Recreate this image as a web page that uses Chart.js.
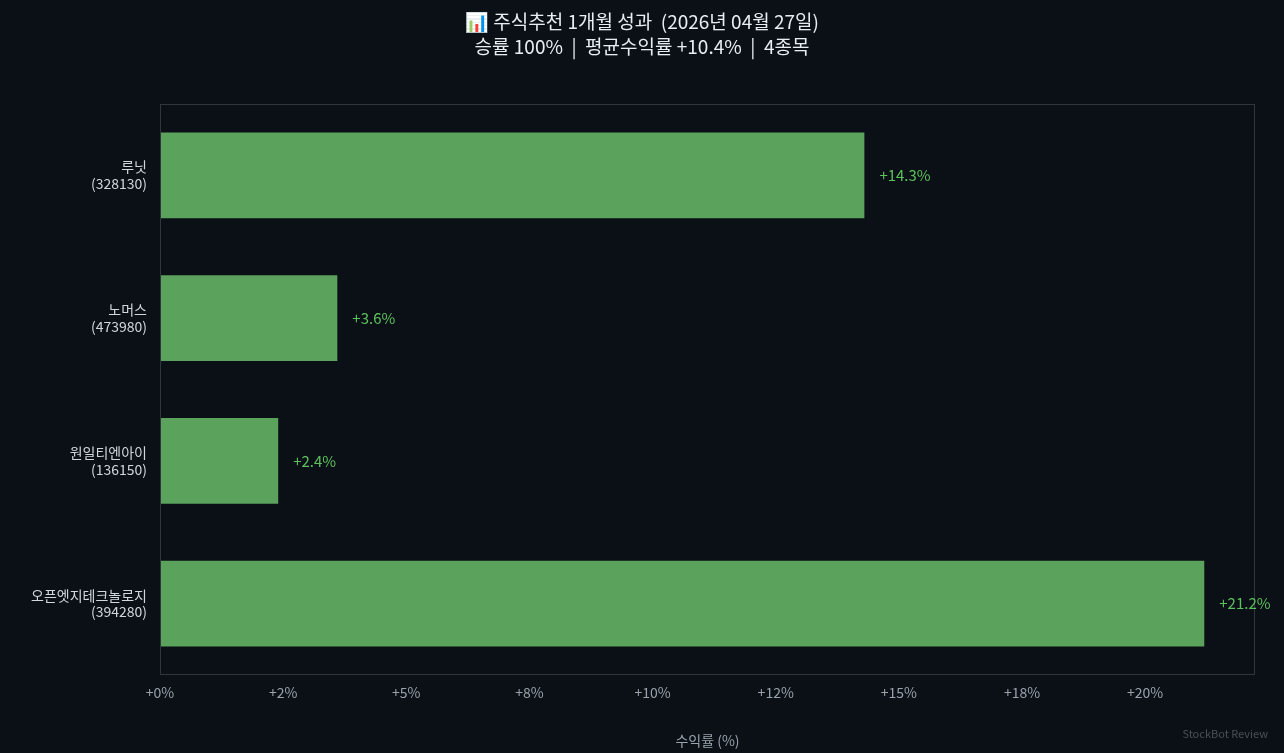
<!DOCTYPE html>
<html><head><meta charset="utf-8">
<script src="https://cdn.jsdelivr.net/npm/chart.js@4"></script>
<style>html,body{margin:0;background:#0b0f16;}#w{width:1284px;height:753px;}</style>
</head><body><div id="w"><canvas id="c"></canvas></div>
<script>
const categories = [['루닛','(328130)'],['노머스','(473980)'],['원일티엔아이','(136150)'],['오픈엣지테크놀로지','(394280)']];
const returns = [14.3, 3.6, 2.4, 21.2];
const tickLabels = ['+0%','+2%','+5%','+8%','+10%','+12%','+15%','+18%','+20%'];
const titleLines = ['📊 주식추천 1개월 성과  (2026년 04월 27일)','승률 100%  |  평균수익률 +10.4%  |  4종목'];
const F = '"Noto Sans CJK KR","Noto Sans",sans-serif';
const deco = {
  id:'deco',
  beforeDraw(ch){const c=ch.ctx;c.save();c.fillStyle='#0b0f16';c.fillRect(0,0,ch.width,ch.height);c.restore();},
  afterDraw(ch){
    const c=ch.ctx,a=ch.chartArea;c.save();
    c.strokeStyle='#30363d';c.lineWidth=1;c.strokeRect(a.left+0.5,a.top+0.5,a.right-a.left-1,a.bottom-a.top-1);
    c.fillStyle='#e6edf3';c.textAlign='center';c.textBaseline='middle';c.font='19px '+F;
    c.fillText(titleLines[0],642,22);c.fillText(titleLines[1],642,47);
    const m=ch.getDatasetMeta(0);
    c.fillStyle='#5cc25c';c.font='15px '+F;c.textAlign='left';
    m.data.forEach((b,i)=>c.fillText('+'+returns[i].toFixed(1)+'%',b.x+15,b.y));
    c.fillStyle='#4a5058';c.font='11px '+F;c.textAlign='right';
    c.fillText('StockBot Review',1268,734);
    c.restore();
  }
};
new Chart(document.getElementById('c'),{
  type:'bar',
  data:{labels:categories,datasets:[{data:returns,backgroundColor:'#5ba25c',barPercentage:0.6,categoryPercentage:1}]},
  options:{
    indexAxis:'y',responsive:true,maintainAspectRatio:false,animation:false,
    layout:{padding:{top:104,right:29,left:0,bottom:0}},
    plugins:{legend:{display:false},tooltip:{enabled:false}},
    scales:{
      x:{min:0,max:22.23,grid:{display:false,drawTicks:true,tickLength:5,color:'#8b949e'},border:{display:false},
        afterBuildTicks(s){s.ticks=[0,2.5,5,7.5,10,12.5,15,17.5,20].map(v=>({value:v}));},
        afterFit(s){s.height=78;},
        ticks:{color:'#9aa3ad',font:{family:F,size:14},padding:4,callback:(v,i)=>tickLabels[i]},
        title:{display:true,text:'수익률 (%)',color:'#9aa3ad',font:{family:F,size:14},padding:{top:0}}},
      y:{grid:{display:false,tickLength:5,color:'#8b949e'},border:{display:false},
        afterFit(s){s.width=160;},
        ticks:{color:'#d0d7de',font:{family:F,size:14,lineHeight:1.2},padding:8}}
    }
  },
  plugins:[deco]
});
</script></body></html>
